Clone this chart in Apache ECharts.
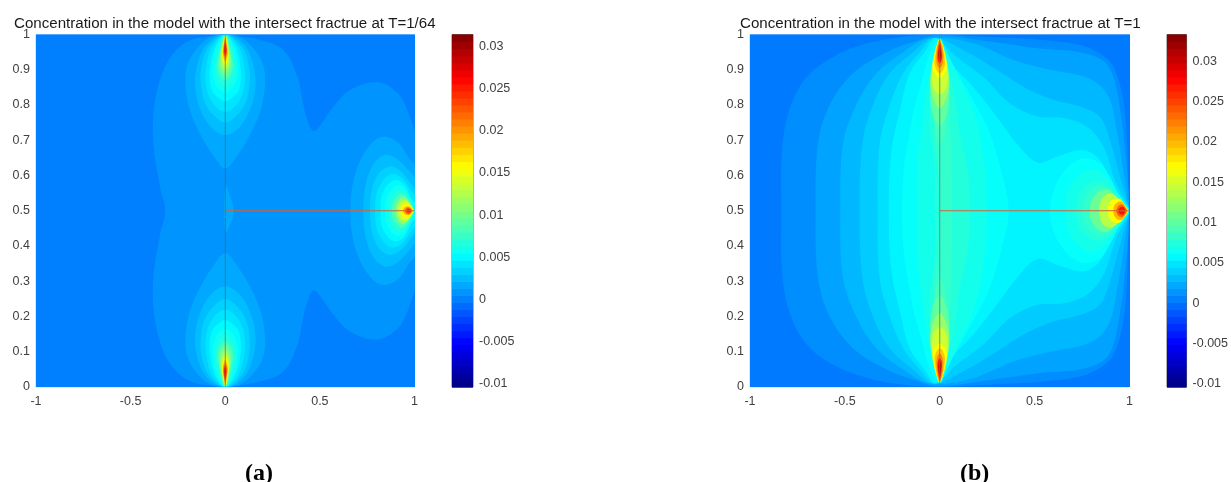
<!DOCTYPE html>
<html><head><meta charset="utf-8">
<style>html,body{margin:0;padding:0;background:#fff}#c{width:1231px;height:482px}</style>
<script src="https://cdn.jsdelivr.net/npm/echarts@6/dist/echarts.min.js"></script>
</head><body><div id="c"></div>
<script>
const titleA = 'Concentration in the model with the intersect fractrue at T=1/64';
const titleB = 'Concentration in the model with the intersect fractrue at T=1';
const captions = ['(a)', '(b)'];
const rangeA = [-0.01035, 0.0314];
const rangeB = [-0.0104, 0.03334];
const barTicks = [-0.01, -0.005, 0, 0.005, 0.01, 0.015, 0.02, 0.025, 0.03];
const colourSteps = 50;

// Contours, as [x, y] in data units.
// "upper" lists run over the upper half and are reflected in y = 0.5 (the field is symmetric).
const aOuterUpper = [[-.317,.5],[-.344,.567],[-.381,.7],[-.37,.814],[-.307,.92],[-.2,.98],[-.04,.998],[.02,.998],[.18,.985],[.307,.956],[.385,.875],[.405,.82],[.434,.757],[.466,.726],[.503,.743],[.571,.794],[.661,.843],[.804,.865],[.91,.834],[.968,.777],[1.01,.692]];
const aJunction = [[0,.573],[.03,.535],[.045,.5],[.03,.465],[0,.437]];

// lower fracture-end lobes: right half, reflected in x = 0 and in y = 0.5
const aLobes = [
 [0.00176,[[0,0],[.08,.008],[.15,.04],[.2,.086],[.21,.143],[.185,.218],[.13,.285],[.06,.346],[0,.38]]],
 [0.00259,[[0,0],[.06,.01],[.115,.04],[.15,.09],[.16,.14],[.14,.2],[.08,.26],[0,.285]]],
 [0.00343,[[0,0],[.05,.012],[.1,.045],[.125,.09],[.13,.13],[.11,.19],[.06,.23],[0,.25]]],
 [0.00426,[[0,0],[.04,.012],[.08,.045],[.1,.09],[.105,.125],[.09,.17],[.05,.205],[0,.22]]],
 [0.0051,[[0,0],[.03,.012],[.065,.05],[.08,.09],[.083,.12],[.07,.16],[.035,.18],[0,.19]]],
 [0.00593,[[0,0],[.024,.012],[.052,.05],[.064,.085],[.066,.11],[.052,.14],[.028,.158],[0,.165]]],
 [0.00677,[[0,0],[.018,.012],[.04,.05],[.05,.08],[.052,.1],[.04,.125],[.02,.14],[0,.148]]],
 [0.00844,[[0,0],[.014,.012],[.03,.05],[.038,.075],[.04,.09],[.03,.112],[.014,.124],[0,.13]]],
 [0.0101,[[0,.001],[.011,.012],[.024,.05],[.03,.072],[.031,.085],[.02,.105],[0,.117]]],
 [0.0118,[[0,.002],[.009,.012],[.02,.045],[.025,.07],[.018,.092],[0,.106]]],
 [0.0135,[[0,.003],[.008,.014],[.017,.045],[.021,.065],[.014,.083],[0,.096]]],
 [0.016,[[0,.005],[.007,.016],[.014,.04],[.017,.058],[.011,.075],[0,.086]]],
 [0.0185,[[0,.008],[.006,.02],[.012,.042],[.013,.055],[.008,.068],[0,.077]]],
 [0.021,[[0,.013],[.005,.024],[.01,.042],[.01,.054],[.005,.063],[0,.069]]],
 [0.0235,[[0,.018],[.004,.028],[.007,.042],[.007,.052],[0,.062]]],
 [0.026,[[0,.024],[.003,.033],[.005,.045],[0,.056]]]
];
// right-hand source lobe of panel a: upper half
const aSource = [
 [0.00176,[[.661,.5],[.675,.58],[.72,.65],[.79,.7],[.85,.71],[.92,.69],[.97,.65],[1.01,.62]]],
 [0.00259,[[.73,.5],[.74,.57],[.78,.63],[.84,.658],[.9,.65],[.96,.62],[1.01,.58]]],
 [0.00343,[[.765,.5],[.775,.56],[.81,.605],[.865,.625],[.92,.615],[.97,.585],[1.01,.55]]],
 [0.00426,[[.792,.5],[.8,.55],[.84,.59],[.88,.604],[.93,.595],[.98,.56],[1.01,.535]]],
 [0.0051,[[.82,.5],[.828,.545],[.86,.575],[.9,.587],[.945,.575],[.99,.53],[1.01,.52]]],
 [0.00593,[[.845,.5],[.852,.535],[.88,.562],[.915,.572],[.95,.56],[.995,.51]]],
 [0.00677,[[.865,.5],[.872,.53],[.895,.55],[.925,.557],[.96,.545],[.995,.505]]],
 [0.00844,[[.88,.5],[.888,.525],[.91,.542],[.935,.547],[.965,.535],[.995,.503]]],
 [0.0109,[[.9,.5],[.905,.52],[.925,.535],[.945,.538],[.97,.525],[.995,.502]]],
 [0.0135,[[.912,.5],[.918,.518],[.935,.528],[.955,.53],[.975,.52],[.995,.5]]],
 [0.016,[[.926,.5],[.93,.512],[.945,.52],[.965,.521],[.98,.513],[.995,.5]]],
 [0.0193,[[.94,.5],[.945,.508],[.96,.512],[.975,.511],[.99,.5]]],
 [0.0226,[[.95,.5],[.955,.506],[.967,.509],[.98,.505],[.987,.5]]],
 [0.0252,[[.958,.5],[.965,.504],[.975,.504],[.982,.5]]]
];

// panel b: wide bands, upper half, from left of the fracture round to the right edge
const bBands = [
 [0.00115,[[-.835,.5],[-.83,.68],[-.79,.79],[-.7,.88],[-.55,.94],[-.38,.975],[-.2,.993],[-.02,.999],[.3,.992],[.528,.985],[.739,.97],[.844,.946],[.915,.909],[.967,.815],[.985,.71],[.994,.568],[.998,.5]]],
 [0.00207,[[-.654,.5],[-.642,.69],[-.58,.8],[-.457,.89],[-.28,.95],[-.105,.985],[-.01,.998],[.264,.98],[.528,.96],[.739,.95],[.862,.925],[.915,.88],[.959,.757],[.982,.643],[.994,.568],[.998,.5]]],
 [0.00294,[[-.524,.5],[-.51,.69],[-.44,.8],[-.334,.89],[-.193,.95],[-.05,.99],[.176,.975],[.387,.928],[.58,.9],[.79,.875],[.888,.825],[.932,.73],[.967,.617],[.99,.53],[.998,.5]]],
 [0.00382,[[-.422,.5],[-.408,.69],[-.352,.8],[-.264,.89],[-.14,.95],[-.035,.99],[.123,.956],[.3,.9],[.457,.847],[.598,.815],[.739,.796],[.844,.767],[.897,.7],[.95,.597],[.985,.53],[.998,.5]]],
 [0.00469,[[-.327,.5],[-.317,.69],[-.264,.8],[-.193,.89],[-.105,.95],[-.026,.99],[.088,.937],[.229,.88],[.369,.805],[.51,.768],[.651,.763],[.774,.739],[.862,.683],[.923,.587],[.975,.53],[.998,.5]]],
 [0.00557,[[-.269,.5],[-.255,.67],[-.21,.785],[-.158,.89],[-.08,.95],[-.018,.99],[.062,.918],[.176,.852],[.3,.767],[.422,.68],[.519,.636],[.616,.653],[.756,.672],[.844,.644],[.915,.568],[.97,.53],[.998,.5]]],
 [0.00622,[[-.2,.5],[-.19,.62],[-.16,.72],[-.14,.78],[-.1,.858],[-.055,.943],[0,.99],[.035,.95],[.105,.88],[.19,.8],[.264,.72],[.33,.6],[.364,.5]]],
 [0.00622,[[.58,.5],[.607,.568],[.677,.625],[.756,.648],[.844,.635],[.897,.596],[.95,.54],[.985,.515],[.997,.5]]],
 [0.00688,[[-.12,.5],[-.12,.62],[-.1,.72],[-.085,.78],[-.065,.858],[-.03,.943],[0,.985],[.03,.96],[.08,.9],[.15,.82],[.21,.72],[.24,.6],[.248,.5]]],
 [0.00688,[[.665,.5],[.677,.56],[.739,.6],[.8,.618],[.87,.6],[.923,.56],[.98,.515],[.997,.5]]],
 [0.00753,[[-.026,.5],[-.026,.62],[-.05,.72],[-.055,.78],[-.045,.858],[-.02,.943],[0,.985],[.015,.96],[.045,.9],[.08,.82],[.105,.72],[.15,.6],[.158,.5]]],
 [0.00753,[[.72,.5],[.735,.55],[.78,.575],[.84,.585],[.9,.57],[.95,.53],[.985,.5]]],
 [0.00819,[[-.004,.5],[-.006,.6],[-.03,.72],[-.04,.8],[-.035,.87],[-.018,.945],[0,.985],[.015,.945],[.03,.87],[.05,.8],[.06,.7],[.062,.6],[.062,.5]]],
 [0.00819,[[.755,.5],[.77,.54],[.81,.565],[.86,.57],[.91,.555],[.96,.52],[.99,.5]]],
 [0.0105,[[.79,.5],[.8,.53],[.84,.555],[.88,.56],[.92,.545],[.97,.515],[.992,.5]]],
 [0.014,[[.84,.5],[.85,.53],[.875,.545],[.905,.548],[.94,.535],[.98,.51],[.995,.5]]],
 [0.0169,[[.887,.5],[.895,.522],[.92,.533],[.95,.533],[.97,.52],[.993,.5]]],
 [0.0202,[[.915,.5],[.92,.515],[.94,.525],[.96,.525],[.98,.51],[.99,.5]]],
 [0.0237,[[.93,.5],[.94,.513],[.955,.518],[.97,.514],[.985,.5]]],
 [0.0272,[[.94,.5],[.95,.509],[.965,.511],[.978,.5]]]
];
// panel b: core lobes around the upper fracture tip, reflected in y = 0.5
const bCores = [
 [0.00885,[[0,.988],[.018,.955],[.032,.87],[.038,.8],[.025,.72],[0,.69],[-.02,.72],[-.03,.8],[-.032,.87],[-.018,.955]]],
 [0.0101,[[0,.988],[.02,.96],[.04,.9],[.05,.84],[.04,.78],[0,.74],[-.04,.78],[-.05,.84],[-.04,.9],[-.02,.96]]],
 [0.0125,[[0,.987],[.02,.962],[.042,.91],[.05,.86],[.035,.82],[0,.79],[-.035,.82],[-.05,.86],[-.042,.91],[-.02,.962]]],
 [0.0148,[[0,.986],[.018,.965],[.037,.92],[.043,.88],[.03,.845],[0,.83],[-.03,.845],[-.043,.88],[-.037,.92],[-.018,.965]]],
 [0.0169,[[0,.985],[.016,.968],[.032,.93],[.035,.9],[.02,.885],[0,.875],[-.02,.885],[-.035,.9],[-.032,.93],[-.016,.968]]],
 [0.0193,[[0,.985],[.014,.968],[.025,.935],[.027,.915],[.015,.897],[0,.89],[-.015,.897],[-.027,.915],[-.025,.935],[-.014,.968]]],
 [0.022,[[0,.984],[.011,.968],[.018,.94],[.014,.915],[0,.905],[-.014,.915],[-.018,.94],[-.011,.968]]],
 [0.0264,[[0,.978],[.008,.96],[.012,.94],[.009,.925],[0,.918],[-.009,.925],[-.012,.94],[-.008,.96]]],
 [0.0307,[[0,.972],[.005,.955],[.007,.945],[.004,.93],[0,.925],[-.004,.93],[-.007,.945],[-.005,.955]]]
];
const fractureV = [[0,0],[0,1]];
const fractureH = [[0,.5],[1,.5]];

function jet(v, range, stepped) {
  let f = (v - range[0]) / (range[1] - range[0]);
  if (stepped) f = (Math.min(colourSteps - 1, Math.max(0, Math.floor(f * colourSteps))) + .5) / colourSteps;
  const c = t => Math.round(255 * Math.max(0, Math.min(1, 1.5 - Math.abs(4 * f - t))));
  return `rgb(${c(3)},${c(2)},${c(1)})`;
}
const reflectY = half => {
  const low = half.filter(p => p[1] !== .5).map(p => [p[0], 1 - p[1]]).reverse();
  return half.concat(low);
};
const flipY = pts => pts.map(p => [p[0], 1 - p[1]]);
const closeX = half => half.concat(half.filter(p => p[0] !== 0).map(p => [-p[0], p[1]]).reverse());
const square = [[-1.02,-.02],[1.02,-.02],[1.02,1.02],[-1.02,1.02]];

const shapesA = [[0.0001, square], [0.00092, reflectY(aOuterUpper)], [0.00176, aJunction]];
aSource.forEach(c => shapesA.push([c[0], reflectY(c[1])]));
aLobes.forEach(c => { const p = closeX(c[1]); shapesA.push([c[0], p], [c[0], flipY(p)]); });

const shapesB = [[0.00032, square]];
bBands.forEach(c => shapesB.push([c[0], reflectY(c[1])]));
bCores.forEach(c => shapesB.push([c[0], c[1]], [c[0], flipY(c[1])]));

const fieldSeries = (shapes, range, idx) => ({
  type: 'custom', xAxisIndex: idx, yAxisIndex: idx, silent: true, clip: true, animation: false,
  data: shapes.map((s, i) => [i]), progressive: 0,
  renderItem: (params, api) => {
    const s = shapes[params.dataIndex];
    return { type: 'polygon', shape: { points: s[1].map(p => api.coord(p)), smooth: s[1] === square ? 0 : .35 }, style: { fill: jet(s[0], range) } };
  }
});
const barSeries = (range, idx) => {
  const bands = [];
  for (let i = 0; i < colourSteps; i++) bands.push([range[0] + (range[1] - range[0]) * i / colourSteps, range[0] + (range[1] - range[0]) * (i + 1) / colourSteps]);
  return {
    type: 'custom', xAxisIndex: idx, yAxisIndex: idx, silent: true, animation: false, data: bands.map((b, i) => [i]),
    renderItem: (params, api) => {
      const b = bands[params.dataIndex], p0 = api.coord([0, b[0]]), p1 = api.coord([1, b[1]]);
      return { type: 'rect', shape: { x: p0[0], y: p1[1], width: p1[0] - p0[0], height: p0[1] - p1[1] + .6 }, style: { fill: jet((b[0] + b[1]) / 2, range, true) } };
    }
  };
};
const lineSeries = (data, color, idx) => ({
  type: 'line', xAxisIndex: idx, yAxisIndex: idx, data, symbol: 'none', silent: true, animation: false, z: 5,
  lineStyle: { color, width: 1 }
});
const fontFam = '"Liberation Sans", Arial, sans-serif';
const lab = { color: '#404040', fontSize: 12.5, fontFamily: fontFam };
const mainX = i => ({ type: 'value', gridIndex: i, min: -1, max: 1, interval: .5, axisLine: { show: false }, axisTick: { show: false }, splitLine: { show: false }, axisLabel: { ...lab, margin: 8 } });
const mainY = i => ({ type: 'value', gridIndex: i, min: 0, max: 1, interval: .1, axisLine: { show: false }, axisTick: { show: false }, splitLine: { show: false }, axisLabel: { ...lab, margin: 6 } });
const barX = i => ({ type: 'value', gridIndex: i, min: 0, max: 1, show: false });
const barY = (i, range) => ({
  type: 'value', gridIndex: i, min: range[0], max: range[1], position: 'right', splitLine: { show: false }, axisLine: { show: false, onZero: false },
  axisTick: { show: true, inside: true, length: 3, lineStyle: { color: '#444' }, customValues: barTicks },
  axisLabel: { ...lab, margin: 6, customValues: barTicks, formatter: v => String(+v.toFixed(3)) }
});
const border = 'rgba(170,205,255,0.9)';
const titleStyle = { fontFamily: fontFam, fontWeight: 'normal', fontSize: 15.1, color: '#1a1a1a' };
const capStyle = { fontFamily: '"Liberation Serif", serif', fontWeight: 'bold', fontSize: 24, color: '#000' };
const option = {
  backgroundColor: '#fff', animation: false,
  title: [
    { text: titleA, left: 9, top: 11, textStyle: titleStyle },
    { text: titleB, left: 735, top: 11, textStyle: titleStyle },
    { text: captions[0], left: 240, top: 457, textStyle: capStyle },
    { text: captions[1], left: 955, top: 457, textStyle: capStyle }
  ],
  grid: [
    { left: 36, top: 34.5, width: 378.5, height: 352.5, show: true, borderColor: border, borderWidth: 1, backgroundColor: 'transparent' },
    { left: 750, top: 34.5, width: 379.5, height: 352.5, show: true, borderColor: border, borderWidth: 1, backgroundColor: 'transparent' },
    { left: 452, top: 34.5, width: 21, height: 352.5, show: true, borderColor: '#666', borderWidth: 1, backgroundColor: 'transparent' },
    { left: 1167, top: 34.5, width: 21, height: 352.5, show: true, borderColor: '#666', borderWidth: 1, backgroundColor: 'transparent' }
  ],
  xAxis: [mainX(0), mainX(1), barX(2), barX(3)],
  yAxis: [mainY(0), mainY(1), barY(2, rangeA), barY(3, rangeB)],
  series: [
    fieldSeries(shapesA, rangeA, 0), fieldSeries(shapesB, rangeB, 1),
    barSeries(rangeA, 2), barSeries(rangeB, 3),
    lineSeries(fractureV, 'rgba(50,110,130,0.7)', 0), lineSeries(fractureH, 'rgb(205,100,60)', 0),
    lineSeries(fractureV, 'rgba(90,130,150,0.85)', 1), lineSeries(fractureH, 'rgb(205,100,60)', 1)
  ]
};
echarts.init(document.getElementById('c'), null, { renderer: 'canvas' }).setOption(option);
</script></body></html>
